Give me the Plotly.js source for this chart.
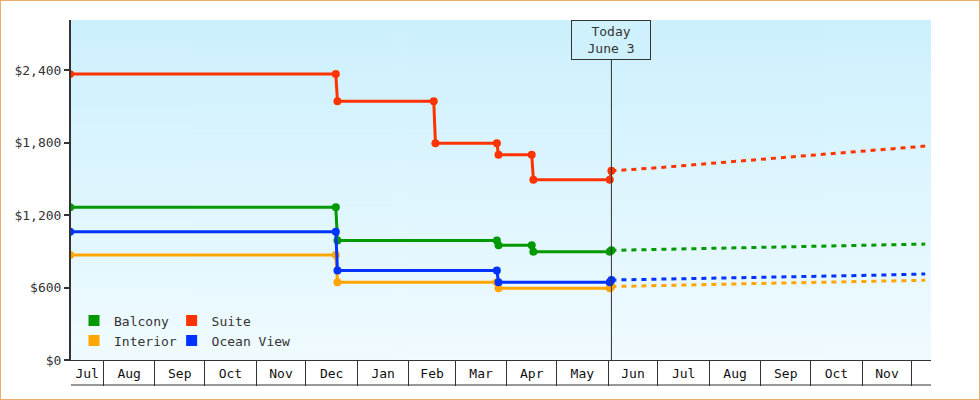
<!DOCTYPE html>
<html><head><meta charset="utf-8">
<script src="https://cdn.plot.ly/plotly-3.0.1.min.js"></script>
<style>
html,body{margin:0;padding:0;background:#fff;}
#chart{width:978px;height:398px;border:1px solid #e9ac6a;}
</style>
</head><body>
<div id="chart"></div>
<script>
// ---------- data ----------
const seriesNames = ['Balcony', 'Suite', 'Interior', 'Ocean View'];

const balconyDates = ['2022-07-12','2022-12-19','2022-12-20','2023-03-26','2023-03-27','2023-04-16','2023-04-17','2023-06-02','2023-06-03'];
const balconyPrices = [1265, 1265, 990, 990, 950, 950, 897, 897, 908];

const suiteDates = ['2022-07-12','2022-12-19','2022-12-20','2023-02-16','2023-02-17','2023-03-26','2023-03-27','2023-04-16','2023-04-17','2023-06-02','2023-06-03'];
const suitePrices = [2367, 2367, 2142, 2142, 1795, 1795, 1700, 1700, 1493, 1493, 1566];

const interiorDates = ['2022-07-12','2022-12-19','2022-12-20','2023-03-26','2023-03-27','2023-06-02','2023-06-03'];
const interiorPrices = [869, 869, 644, 644, 594, 594, 608];

const oceanDates = ['2022-07-12','2022-12-19','2022-12-20','2023-03-26','2023-03-27','2023-06-02','2023-06-03'];
const oceanPrices = [1062, 1062, 742, 742, 644, 644, 662];

const projDates = ['2023-06-03','2023-07-01','2023-08-01','2023-09-01','2023-10-01','2023-11-01','2023-12-01','2023-12-09'];
const balconyProj = [908, 915, 924, 932, 941, 950, 958, 960];
const suiteProj = [1566, 1592, 1627, 1661, 1690, 1724, 1757, 1771];
const interiorProj = [608, 618, 626, 634, 642, 650, 658, 660];
const oceanProj = [662, 668, 676, 684, 692, 700, 709, 712];

const monthStarts = ['2022-07-01','2022-08-01','2022-09-01','2022-10-01','2022-11-01','2022-12-01','2023-01-01','2023-02-01','2023-03-01','2023-04-01','2023-05-01','2023-06-01','2023-07-01','2023-08-01','2023-09-01','2023-10-01','2023-11-01','2023-12-01','2024-01-01'];
const monthLabels = ['Jul','Aug','Sep','Oct','Nov','Dec','Jan','Feb','Mar','Apr','May','Jun','Jul','Aug','Sep','Oct','Nov','Dec'];
const yTicks = [0, 600, 1200, 1800, 2400];

const todayDate = '2023-06-03';
const todayLabel = 'Today<br>June 3';

// ---------- styles ----------
const colors = {Balcony: '#009900', Suite: '#ff3300', Interior: '#ffa500', 'Ocean View': '#0033ff'};
const FONT = '"DejaVu Sans Mono", "Liberation Mono", monospace';
const xRange = ['2022-07-12 12:00', '2023-12-12 12:00'];
const yRange = [0, 2815];

function ms(s) { const p = s.split(/[- :]/).map(Number); return Date.UTC(p[0], p[1]-1, p[2], p[3]||0, p[4]||0); }

// label positions: centre of visible part of each month, if wide enough
const r0 = ms(xRange[0]), r1 = ms(xRange[1]);
const labelVals = [], labelText = [];
for (let i = 0; i < monthLabels.length; i++) {
  const a = Math.max(ms(monthStarts[i]), r0), b = Math.min(ms(monthStarts[i+1]), r1);
  if ((b - a) >= 15 * 86400000) { labelVals.push((a + b) / 2); labelText.push(monthLabels[i]); }
}
const sepVals = monthStarts.map(ms).filter(v => v > r0 && v < r1);

const hist = {
  Balcony: [balconyDates, balconyPrices],
  Suite: [suiteDates, suitePrices],
  Interior: [interiorDates, interiorPrices],
  'Ocean View': [oceanDates, oceanPrices]
};
const proj = {Balcony: balconyProj, Suite: suiteProj, Interior: interiorProj, 'Ocean View': oceanProj};

const traces = [];
seriesNames.forEach(n => {
  traces.push({x: projDates, y: proj[n], type: 'scatter', mode: 'lines', showlegend: false,
    line: {color: colors[n], width: 3, dash: '5px,5px'}, hoverinfo: 'skip', name: n + ' forecast'});
});
seriesNames.forEach(n => {
  traces.push({x: hist[n][0], y: hist[n][1], type: 'scatter', mode: 'lines+markers', showlegend: false,
    line: {color: colors[n], width: 3}, marker: {color: colors[n], size: 8}, name: n});
});
// legend entries (square swatches), two columns
[['Balcony','legend'],['Interior','legend'],['Suite','legend2'],['Ocean View','legend2']].forEach(([n, lg]) => {
  traces.push({x: [null], y: [null], type: 'scatter', mode: 'markers', name: n, legend: lg, showlegend: true,
    marker: {symbol: 'square', size: 11, color: colors[n]}});
});

// background gradient
const cv = document.createElement('canvas');
cv.width = 4; cv.height = 340;
const cx = cv.getContext('2d');
const g = cx.createLinearGradient(0, 0, 0, 340);
g.addColorStop(0, '#ccf0fd'); g.addColorStop(1, '#f0fbff');
cx.fillStyle = g; cx.fillRect(0, 0, 4, 340);
const bgURL = cv.toDataURL();

const legendCommon = {orientation: 'v', bgcolor: 'rgba(0,0,0,0)', borderwidth: 0,
  font: {family: FONT, size: 13, color: '#333'}, yanchor: 'top', xanchor: 'left', tracegroupgap: 0, itemwidth: 30};

const layout = {
  width: 978, height: 398,
  margin: {l: 70, r: 48, t: 19, b: 39},
  paper_bgcolor: '#ffffff',
  plot_bgcolor: 'rgba(0,0,0,0)',
  font: {family: FONT, size: 13, color: '#333'},
  showlegend: true,
  legend: Object.assign({}, legendCommon, {x: 0.0035, y: 0.16}),
  legend2: Object.assign({}, legendCommon, {x: 0.117, y: 0.16}),
  xaxis: {
    type: 'date', range: xRange, showgrid: false, zeroline: false,
    showline: true, linecolor: '#333', linewidth: 1,
    tickmode: 'array', tickvals: labelVals, ticktext: labelText,
    ticks: 'outside', ticklen: 0, tickcolor: 'rgba(0,0,0,0)',
    tickfont: {family: FONT, size: 13, color: '#111'},
    ticklabelstandoff: 1,
    minor: {tickmode: 'array', tickvals: sepVals, ticks: 'outside', ticklen: 25, tickwidth: 1, tickcolor: '#333', showgrid: false},
    fixedrange: true
  },
  yaxis: {
    range: yRange, tickmode: 'array', tickvals: yTicks, tickformat: '$,.0f',
    showgrid: false, zeroline: false,
    showline: true, linecolor: '#333', linewidth: 2,
    ticks: 'outside', ticklen: 5, tickwidth: 2, tickcolor: '#333',
    tickfont: {family: FONT, size: 13, color: '#333'},
    fixedrange: true
  },
  images: [{source: bgURL, xref: 'paper', yref: 'paper', x: 0, y: 1, sizex: 1, sizey: 1,
    sizing: 'stretch', layer: 'below', xanchor: 'left', yanchor: 'top'}],
  shapes: [
    {type: 'line', xref: 'x', yref: 'paper', x0: todayDate, x1: todayDate, y0: 0, y1: 1,
      line: {color: '#333', width: 1}},
    {type: 'line', xref: 'paper', yref: 'paper', x0: 0, x1: 1, y0: -25/340, y1: -25/340,
      line: {color: '#333', width: 1}}
  ],
  annotations: [{
    x: todayDate, xref: 'x', y: 1, yref: 'paper', yanchor: 'top', xanchor: 'center',
    text: todayLabel, showarrow: false, align: 'center',
    bgcolor: '#cff1fd', bordercolor: '#333', borderwidth: 1, borderpad: 0,
    width: 78, height: 38,
    font: {family: FONT, size: 13, color: '#333'}
  }]
};

Plotly.newPlot('chart', traces, layout, {displayModeBar: false, staticPlot: true});
</script>
</body></html>
